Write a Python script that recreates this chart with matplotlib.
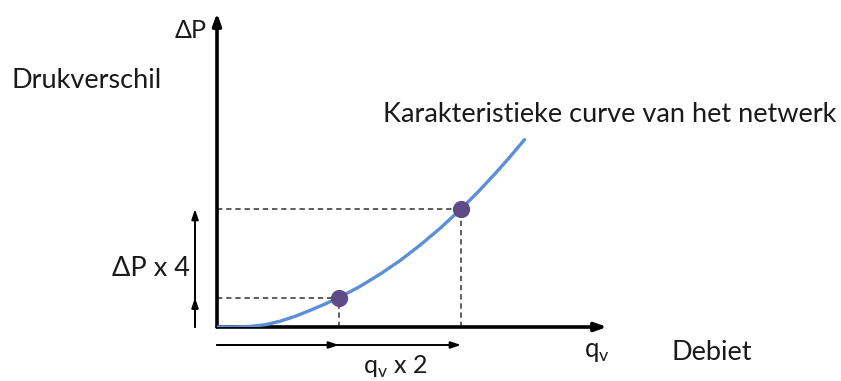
import matplotlib
matplotlib.use("Agg")
import matplotlib.pyplot as plt

# Characteristic curve of the network (flow rate vs. pressure difference)
curve_q = [0.0, 0.15, 0.27, 0.40, 0.52, 0.64, 0.76, 0.88, 1.0, 1.17, 1.34, 1.50,
           1.66, 1.83, 2.0, 2.14, 2.28, 2.40, 2.52]
curve_dp = [0.0, 0.0, 0.02, 0.08, 0.20, 0.36, 0.56, 0.77, 1.0, 1.37, 1.80, 2.25,
            2.76, 3.35, 4.0, 4.58, 5.20, 5.76, 6.35]

# Operating points: doubling the flow gives four times the pressure difference
point_q = [1.0, 2.0]
point_dp = [1.0, 4.0]

W, H = 841, 381
fig = plt.figure(figsize=(W / 100, H / 100), dpi=100)
fig.patch.set_facecolor("white")

# Axes origin and scale in pixels
ox, oy = 217, 327
sx, sy = 122.0, 29.5
x_end, y_end = 607, 13
ax = fig.add_axes([ox / W, (H - oy) / H, (x_end - ox) / W, (oy - y_end) / H])
ax.set_xlim(0, (x_end - ox) / sx)
ax.set_ylim(0, (oy - y_end) / sy)
ax.axis("off")

font = ["Lato", "DejaVu Sans"]
blue = "#5b8fd8"
purple = "#5d4a87"

# Axes with arrow heads
ax.annotate("", xy=(0, 1.0), xytext=(0, 0), xycoords="axes fraction",
            arrowprops=dict(arrowstyle="-|>,head_length=0.7,head_width=0.25",
                            lw=2.6, color="black", shrinkA=0, shrinkB=0),
            annotation_clip=False)
ax.annotate("", xy=(1.0, 0), xytext=(0, 0), xycoords="axes fraction",
            arrowprops=dict(arrowstyle="-|>,head_length=0.7,head_width=0.25",
                            lw=2.6, color="black", shrinkA=0, shrinkB=0),
            annotation_clip=False)

# Dashed guide lines to the operating points
for q, dp in zip(point_q, point_dp):
    ax.plot([0, q], [dp, dp], ls=(0, (3.5, 2.5)), lw=1.1, color="#333333", zorder=2)
    ax.plot([q, q], [0, dp], ls=(0, (3.5, 2.5)), lw=1.1, color="#333333", zorder=2)

# Curve and points
ax.plot(curve_q, curve_dp, color=blue, lw=2.4, solid_capstyle="round", zorder=3)
ax.scatter(point_q, point_dp, s=130, color=purple, zorder=4, clip_on=False)

# Side arrows showing the factor change
arr = dict(arrowstyle="-|>,head_length=0.6,head_width=0.2", lw=1.4, color="black",
           shrinkA=0, shrinkB=0)
xl = -22 / sx
ax.annotate("", xy=(xl, point_dp[1]), xytext=(xl, 0), arrowprops=arr, annotation_clip=False)
ax.annotate("", xy=(xl, point_dp[0]), xytext=(xl, 0), arrowprops=arr, annotation_clip=False)
yl = -18 / sy
ax.annotate("", xy=(point_q[1], yl), xytext=(0, yl), arrowprops=arr, annotation_clip=False)
ax.annotate("", xy=(point_q[0], yl), xytext=(0, yl), arrowprops=arr, annotation_clip=False)

def px_text(x, y, s, **kw):
    fig.text(x / W, 1 - y / H, s, family=font, color="#1a1a1a", **kw)

px_text(175, 30, "ΔP", fontsize=18, va="center", ha="left")
px_text(12, 80, "Drukverschil", fontsize=19.5, va="center", ha="left")
px_text(383, 114, "Karakteristieke curve van het netwerk", fontsize=19.5, va="center", ha="left")
px_text(112, 268, "ΔP x 4", fontsize=19.5, va="center", ha="left")
px_text(363, 367, r"q$_\mathregular{v}$ x 2", fontsize=18, va="center", ha="left")
px_text(584, 352, r"q$_\mathregular{v}$", fontsize=18.5, va="center", ha="left")
px_text(672, 352, "Debiet", fontsize=19.5, va="center", ha="left")

fig.savefig("out.png", dpi=100, facecolor="white")
